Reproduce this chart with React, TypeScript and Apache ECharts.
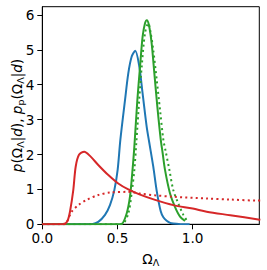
import React, { useEffect, useRef } from "react";
import * as echarts from "echarts";

const blueX = [0, 0.3, 0.33, 0.372, 0.417, 0.45, 0.479, 0.501, 0.519, 0.55, 0.572, 0.594, 0.618, 0.645, 0.667, 0.694, 0.711, 0.738, 0.761, 0.787, 0.805, 0.827, 0.85, 0.871, 0.92, 0.98];
const blueY = [0, 0, 0.005, 0.07, 0.27, 0.55, 0.98, 1.56, 2.42, 3.56, 4.33, 4.8, 4.97, 4.52, 3.75, 2.8, 2.35, 1.65, 0.95, 0.38, 0.2, 0.1, 0.04, 0.02, 0.005, 0];

const greenX = [0, 0.5, 0.528, 0.561, 0.583, 0.598, 0.612, 0.632, 0.65, 0.667, 0.683, 0.695, 0.709, 0.727, 0.745, 0.765, 0.787, 0.8, 0.816, 0.849, 0.882, 0.916, 0.949];
const greenY = [0, 0, 0.01, 0.31, 0.79, 1.46, 2.22, 3.56, 4.52, 5.38, 5.76, 5.85, 5.71, 5.19, 4.33, 3.37, 2.45, 2.05, 1.56, 0.89, 0.5, 0.22, 0.1];

const greenPX = [0, 0.51, 0.535, 0.572, 0.594, 0.612, 0.625, 0.645, 0.661, 0.683, 0.705, 0.72, 0.738, 0.761, 0.783, 0.805, 0.82, 0.845, 0.871, 0.904, 0.938, 0.96, 0.975];
const greenPY = [0, 0, 0.01, 0.31, 0.89, 1.56, 2.33, 3.6, 4.52, 5.48, 5.76, 5.5, 4.99, 4.13, 3.27, 2.42, 2.1, 1.56, 0.98, 0.6, 0.27, 0.12, 0.07];

const redX = [0, 0.14, 0.151, 0.17, 0.184, 0.206, 0.222, 0.244, 0.279, 0.317, 0.372, 0.439, 0.505, 0.572, 0.65, 0.75, 0.871, 1.0, 1.093, 1.25, 1.436, 1.45];
const redY = [0, 0, 0.01, 0.12, 0.36, 0.98, 1.65, 1.99, 2.08, 1.96, 1.7, 1.41, 1.17, 1.0, 0.85, 0.7, 0.55, 0.45, 0.36, 0.26, 0.14, 0.13];

const redPX = [0, 0.13, 0.16, 0.195, 0.24, 0.295, 0.372, 0.45, 0.572, 0.65, 0.75, 0.87, 1.093, 1.25, 1.436, 1.45];
const redPY = [0, 0, 0.05, 0.36, 0.55, 0.7, 0.84, 0.91, 0.93, 0.88, 0.83, 0.79, 0.74, 0.71, 0.68, 0.68];

const xTicks = [0, 0.5, 1.0];
const yTicks = [0, 1, 2, 3, 4, 5, 6];

const FONT = "DejaVu Sans";
const FS = 13.6;

const pts = (xs: number[], ys: number[]) => xs.map((x, i) => [x, ys[i]]);

export default function App() {
  const ref = useRef<HTMLDivElement>(null);
  useEffect(() => {
    if (!ref.current) return;
    const chart = echarts.init(ref.current, undefined, { renderer: "svg" });
    const line = (data: number[][], color: string, dotted: boolean, z: number) => ({
      type: "line",
      data,
      showSymbol: false,
      smooth: 0.3,
      z,
      lineStyle: {
        color,
        width: 2,
        type: dotted ? [2, 3.2] : "solid",
        cap: "butt",
      },
    });
    const rich = {
      n: { fontFamily: FONT, fontSize: FS, color: "#000", lineHeight: 18, verticalAlign: "middle" },
      i: { fontFamily: FONT, fontSize: FS, color: "#000", fontStyle: "italic", lineHeight: 18 },
      s: { fontFamily: FONT, fontSize: 9.5, color: "#000", lineHeight: 18, padding: [7, 0, 0, 0] },
    };
    chart.setOption({
      animation: false,
      grid: {
        left: 42.3,
        top: 6.7,
        right: 7.7,
        bottom: 45.7,
        outerBoundsMode: "none",
        containLabel: false,
        show: true,
        borderColor: "#000",
        borderWidth: 1,
        backgroundColor: "transparent",
      },
      xAxis: {
        type: "value",
        min: 0,
        max: 1.443,
        name: "{n|Ω}{s|Λ}",
        nameLocation: "middle",
        nameGap: 26,
        nameTextStyle: { rich },
        axisLine: { show: true, onZero: false, lineStyle: { color: "#000", width: 1 } },
        axisTick: { show: true, length: 5, lineStyle: { color: "#000", width: 1 }, customValues: xTicks },
        axisLabel: {
          customValues: xTicks,
          formatter: (v: number) => v.toFixed(1),
          fontFamily: FONT,
          fontSize: FS,
          color: "#000",
          margin: 7,
        },
        splitLine: { show: false },
      },
      yAxis: {
        type: "value",
        min: 0,
        max: 6.235,
        name: "{i|p}{n|(Ω}{s|Λ}{n||}{i|d}{n|), }{i|p}{s|p}{n|(Ω}{s|Λ}{n||}{i|d}{n|)}",
        nameLocation: "middle",
        nameRotate: 90,
        nameGap: 16,
        nameMoveOverlap: false,
        nameTextStyle: { rich },
        axisLine: { show: true, lineStyle: { color: "#000", width: 1 } },
        axisTick: { show: true, length: 5, lineStyle: { color: "#000", width: 1 }, customValues: yTicks },
        axisLabel: {
          customValues: yTicks,
          fontFamily: FONT,
          fontSize: FS,
          color: "#000",
          margin: 8,
        },
        splitLine: { show: false },
      },
      series: [
        line(pts(blueX, blueY), "#1f77b4", false, 2),
        line(pts(greenX, greenY), "#2ca02c", false, 3),
        line(pts(greenPX, greenPY), "#2ca02c", true, 4),
        line(pts(redX, redY), "#d62728", false, 5),
        line(pts(redPX, redPY), "#d62728", true, 6),
      ],
    });
    return () => chart.dispose();
  }, []);
  return (
    <div
      ref={ref}
      style={{ position: "absolute", left: 0, top: 0, width: 267, height: 270, background: "#fff" }}
    />
  );
}
